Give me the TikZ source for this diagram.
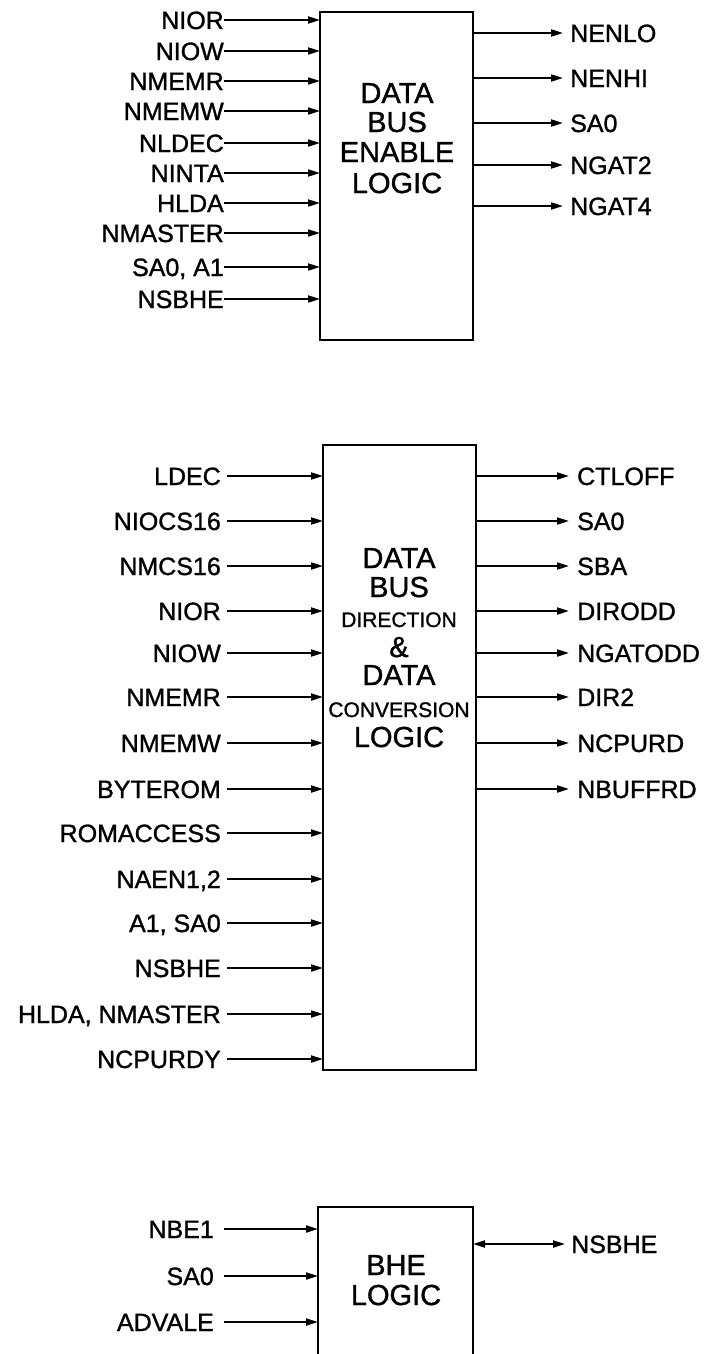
\documentclass[tikz,border=0pt]{standalone}
\usepackage{fontspec}
\setmainfont[FakeBold=1.2,AutoFakeBold=1.2]{Liberation Sans}
\usetikzlibrary{arrows.meta}
\begin{document}
\begin{tikzpicture}[x=1pt,y=-1pt,
  box/.style={draw,line width=2.8pt,inner sep=0pt,outer sep=0pt,anchor=north west},
  lbl/.style={font=\fontsize{25}{25}\selectfont,inner sep=0pt,text height=18pt,text depth=0pt},
  big/.style={font=\fontsize{29}{29}\selectfont,inner sep=0pt,anchor=base},
  small/.style={font=\fontsize{21}{21}\selectfont,inner sep=0pt,anchor=base},
  sig/.style={line width=2pt,-{Triangle[length=12pt,width=7pt]}},
  bsig/.style={line width=2pt,{Triangle[length=12pt,width=7pt]}-{Triangle[length=12pt,width=7pt]}}]
\useasboundingbox (0,0) rectangle (708,1354);
\clip (0,0) rectangle (708,1354);

% ---------- block 1 ----------
\node[box,minimum width=153pt,minimum height=328pt] (b1) at (320,12) {};
\node[big] (t1a) at (397,103) {DATA};
\node[big] (t1b) at (397,132) {BUS};
\node[big] (t1c) at (397,162) {ENABLE};
\node[big] (t1d) at (397,193) {LOGIC};
\foreach \t/\y [count=\i] in {NIOR/20,NIOW/51,NMEMR/81,NMEMW/111,NLDEC/143,NINTA/173,HLDA/203,NMASTER/233,{SA0, A1}/267,NSBHE/299}{
  \node[lbl,anchor=east] (a\i) at (224,\y) {\t};
  \draw[sig] (a\i.east) -- (a\i.east -| b1.west);
}
\foreach \t/\y [count=\i] in {NENLO/33,NENHI/78,SA0/123,NGAT2/165,NGAT4/206}{
  \node[lbl,anchor=west] (p\i) at (570,\y) {\t};
  \draw[sig] (p\i.west -| b1.east) -- ([xshift=-7pt]p\i.west);
}

% ---------- block 2 ----------
\node[box,minimum width=153pt,minimum height=625pt] (b2) at (323,445) {};
\node[big] (t2a) at (399,568) {DATA};
\node[big] (t2b) at (399,597) {BUS};
\node[small] (t2c) at (399,627) {DIRECTION};
\node[big] (t2d) at (399,657) {\&};
\node[big] (t2e) at (399,685) {DATA};
\node[small] (t2f) at (399,717) {CONVERSION};
\node[big] (t2g) at (399,747) {LOGIC};
\foreach \t/\y [count=\i] in {LDEC/476,NIOCS16/521,NMCS16/566,NIOR/611,NIOW/653,NMEMR/697,NMEMW/743,BYTEROM/789,ROMACCESS/833,{NAEN1,2}/879,{A1, SA0}/923,NSBHE/968,{HLDA, NMASTER}/1014,NCPURDY/1059}{
  \node[lbl,anchor=east] (c\i) at (221,\y) {\t};
  \draw[sig] ([xshift=6pt]c\i.east) -- (c\i.east -| b2.west);
}
\foreach \t/\y [count=\i] in {CTLOFF/476,SA0/521,SBA/566,DIRODD/611,NGATODD/653,DIR2/697,NCPURD/743,NBUFFRD/789}{
  \node[lbl,anchor=west] (q\i) at (577,\y) {\t};
  \draw[sig] (q\i.west -| b2.east) -- ([xshift=-8pt]q\i.west);
}

% ---------- block 3 ----------
\node[box,minimum width=155pt,minimum height=200pt] (b3) at (318,1207) {};
\node[big] (t3a) at (396,1275) {BHE};
\node[big] (t3b) at (396,1305) {LOGIC};
\foreach \t/\y [count=\i] in {NBE1/1229,SA0/1276,ADVALE/1322}{
  \node[lbl,anchor=east] (d\i) at (214,\y) {\t};
  \draw[sig] ([xshift=10pt]d\i.east) -- (d\i.east -| b3.west);
}
\node[lbl,anchor=west] (r1) at (571,1244) {NSBHE};
\draw[bsig] (r1.west -| b3.east) -- ([xshift=-6pt]r1.west);
\end{tikzpicture}
\end{document}
